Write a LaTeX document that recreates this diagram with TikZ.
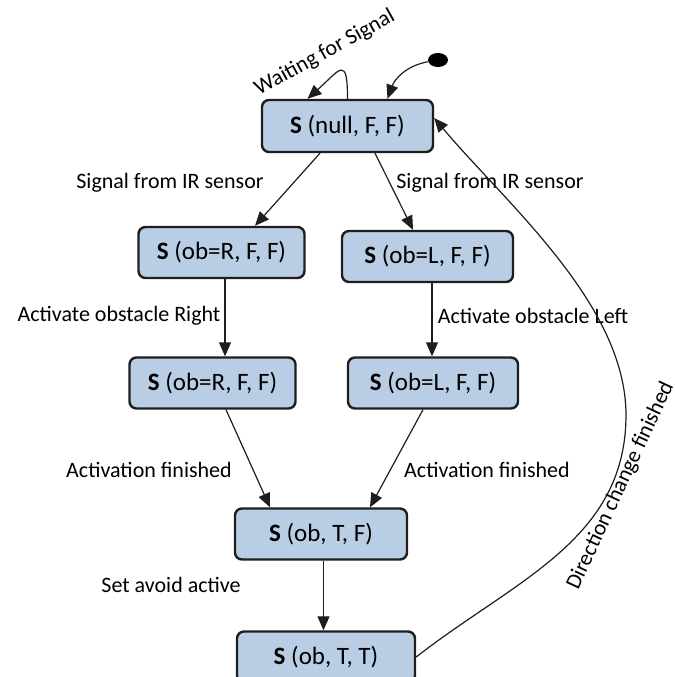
\documentclass[tikz,border=0pt]{standalone}
\usepackage{fontspec}
\setmainfont{Carlito}
\usetikzlibrary{arrows.meta,shapes.geometric}
\definecolor{StateFill}{HTML}{B9CDE5}
\definecolor{Edge}{HTML}{1E1E1E}
\tikzset{
 statebox/.style={draw=Edge, line width=1.2pt, rounded corners=3.5pt, fill=StateFill, minimum width=83pt, minimum height=25.5pt, inner sep=2pt, font=\fontsize{12.5}{15}\selectfont},
 lbl/.style={font=\fontsize{11}{13}\selectfont, inner sep=1pt},
 arrow/.style={-{Triangle[length=7pt,width=6pt]}, line width=0.6pt, draw=Edge},
 startdot/.style={ellipse, fill=black, minimum width=10pt, minimum height=7pt, inner sep=0pt}
}
\begin{document}
\begin{tikzpicture}[x=0.5pt,y=0.5pt]
\useasboundingbox (0,0) rectangle (675,677);
\node[statebox,minimum width=85.5pt,minimum height=26pt] (sNull) at (347.5,551) {\textbf{S} (null, F, F)};
\node[statebox] (sObR) at (221.5,424.5) {\textbf{S} (ob=R, F, F)};
\node[statebox,minimum width=85.5pt] (sObL) at (427.5,420.5) {\textbf{S} (ob=L, F, F)};
\node[statebox] (sActR) at (212.5,294) {\textbf{S} (ob=R, F, F)};
\node[statebox,minimum width=85pt] (sActL) at (433,294) {\textbf{S} (ob=L, F, F)};
\node[statebox,minimum width=86pt] (sAvoid) at (321,143) {\textbf{S} (ob, T, F)};
\node[statebox,minimum width=89pt] (sTurn) at (326,20) {\textbf{S} (ob, T, T)};
\node[startdot] (init) at (438,617) {};

\node[lbl,rotate=29,anchor=base west] (lWait) at (257,580) {Waiting for Signal};
\node[lbl] (lSigR) at (170,494) {Signal from IR sensor};
\node[lbl] (lSigL) at (490,494) {Signal from IR sensor};
\node[lbl] (lActR) at (119,361) {Activate obstacle Right};
\node[lbl] (lActL) at (533,361) {Activate obstacle Left};
\node[lbl] (lFinR) at (149,207) {Activation finished};
\node[lbl] (lFinL) at (487,207) {Activation finished};
\node[lbl] (lAvoid) at (171,92) {Set avoid active};
\node[lbl,rotate=65,anchor=base west] (lTurn) at (577,84) {Direction change finished};

\draw[arrow] (sNull.north) to[out=90,in=42,distance=22pt] ([xshift=-20pt]sNull.north);
\draw[arrow] (init) to[out=190,in=70] ([xshift=20pt]sNull.north);
\draw[arrow] ([xshift=-13.75pt]sNull.south) -- ([xshift=16.75pt]sObR.north);
\draw[arrow] ([xshift=13.75pt]sNull.south) -- ([xshift=-7.25pt]sObL.north);
\draw[arrow] ([xshift=1.75pt]sObR.south) -- ([xshift=6.25pt]sActR.north);
\draw[arrow] ([xshift=2.25pt]sObL.south) -- ([xshift=-0.5pt]sActL.north);
\draw[arrow] ([xshift=6.75pt]sActR.south) -- ([xshift=-25.5pt]sAvoid.north);
\draw[arrow] ([xshift=-5pt]sActL.south) -- ([xshift=24.5pt]sAvoid.north);
\draw[arrow] ([xshift=1.25pt]sAvoid.south) -- ([xshift=-1.25pt]sTurn.north);
\draw[arrow] (sTurn.east) to[out=38,in=-90] (626,262) to[out=90,in=-50,looseness=0.8] ([yshift=4pt]sNull.east);
\end{tikzpicture}
\end{document}
